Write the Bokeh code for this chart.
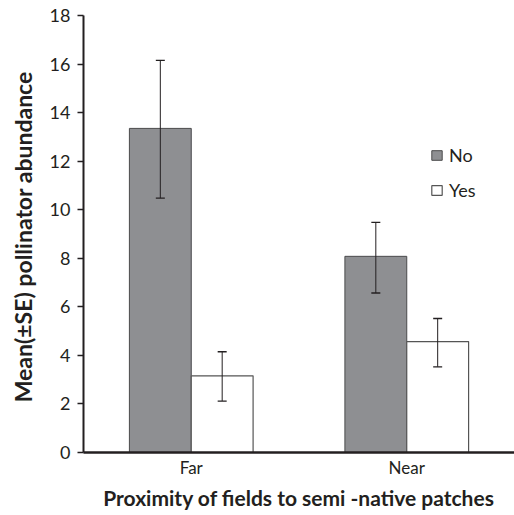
from bokeh.plotting import figure
from bokeh.models import ColumnDataSource, FactorRange, FixedTicker, Whisker, Legend, LegendItem, TeeHead
from bokeh.transform import dodge
from bokeh.embed import file_html
from bokeh.resources import INLINE

# data
categories = ["Far", "Near"]
series = ["No", "Yes"]
mean_no = [13.35, 8.08]
mean_yes = [3.16, 4.57]
se_low_no = [10.48, 6.57]
se_high_no = [16.15, 9.48]
se_low_yes = [2.12, 3.53]
se_high_yes = [4.15, 5.52]
y_ticks = [0, 2, 4, 6, 8, 10, 12, 14, 16, 18]

src = ColumnDataSource(dict(cat=categories, no=mean_no, yes=mean_yes,
                            lo_no=se_low_no, hi_no=se_high_no,
                            lo_yes=se_low_yes, hi_yes=se_high_yes))

BAR_W = 0.287
DARK = "#231f20"
FONT = "Lato"

p = figure(width=514, height=512, output_backend="svg", toolbar_location=None,
           x_range=FactorRange(*categories, range_padding=0), y_range=(0, 18),
           min_border_left=83, min_border_right=0, min_border_top=15,
           min_border_bottom=60)
p.outline_line_color = None
p.xgrid.grid_line_color = None
p.ygrid.grid_line_color = None

r_no = p.vbar(x=dodge("cat", -BAR_W / 2, range=p.x_range), top="no", width=BAR_W,
              source=src, fill_color="#8e8f92", line_color="#4a4a4c", line_width=1)
r_yes = p.vbar(x=dodge("cat", BAR_W / 2, range=p.x_range), top="yes", width=BAR_W,
               source=src, fill_color="white", line_color="#555555", line_width=1.2)

for off, lo, hi in [(-BAR_W / 2, "lo_no", "hi_no"), (BAR_W / 2, "lo_yes", "hi_yes")]:
    w = Whisker(base=dodge("cat", off, range=p.x_range), lower=lo, upper=hi, source=src,
                line_color=DARK, line_width=1, level="overlay",
                upper_head=TeeHead(size=9, line_color=DARK, line_width=1.3),
                lower_head=TeeHead(size=9, line_color=DARK, line_width=1.3))
    p.add_layout(w)

# axes
p.xaxis.major_tick_line_color = None
p.xaxis.major_tick_out = 0
p.xaxis.major_tick_in = 0
p.xaxis.minor_tick_line_color = None
p.xaxis.axis_line_width = 2.5
p.xaxis.axis_line_color = DARK
p.xaxis.major_label_text_font = FONT
p.xaxis.major_label_text_font_size = "17px"
p.xaxis.major_label_text_color = DARK
p.xaxis.major_label_standoff = 4
p.xaxis.axis_label = "Proximity of fields to semi -native patches"
p.xaxis.axis_label_text_font = FONT
p.xaxis.axis_label_text_font_style = "bold"
p.xaxis.axis_label_text_font_size = "21px"
p.xaxis.axis_label_text_color = DARK
p.xaxis.axis_label_standoff = 4

p.yaxis.ticker = FixedTicker(ticks=y_ticks)
p.yaxis.minor_tick_line_color = None
p.yaxis.major_tick_in = 0
p.yaxis.major_tick_out = 6
p.yaxis.major_tick_line_color = DARK
p.yaxis.major_tick_line_width = 1.5
p.yaxis.axis_line_width = 2
p.yaxis.axis_line_color = DARK
p.yaxis.major_label_text_font = FONT
p.yaxis.major_label_text_font_size = "18px"
p.yaxis.major_label_text_color = DARK
p.yaxis.major_label_standoff = 7
p.yaxis.axis_label = "Mean(\u00b1SE)  pollinator abundance"
p.yaxis.axis_label_text_font = FONT
p.yaxis.axis_label_text_font_style = "bold"
p.yaxis.axis_label_text_font_size = "23px"
p.yaxis.axis_label_text_color = DARK
p.yaxis.axis_label_standoff = 10

legend = Legend(items=[LegendItem(label=series[0], renderers=[r_no]),
                       LegendItem(label=series[1], renderers=[r_yes])],
                location=(347, 251), orientation="vertical",
                glyph_width=13, glyph_height=12, label_height=12,
                spacing=13, padding=0, margin=0, label_standoff=6,
                background_fill_alpha=0, border_line_color=None,
                label_text_font=FONT, label_text_font_size="18px",
                label_text_color=DARK)
p.add_layout(legend)

open("out.html", "w").write(file_html(p, INLINE))
